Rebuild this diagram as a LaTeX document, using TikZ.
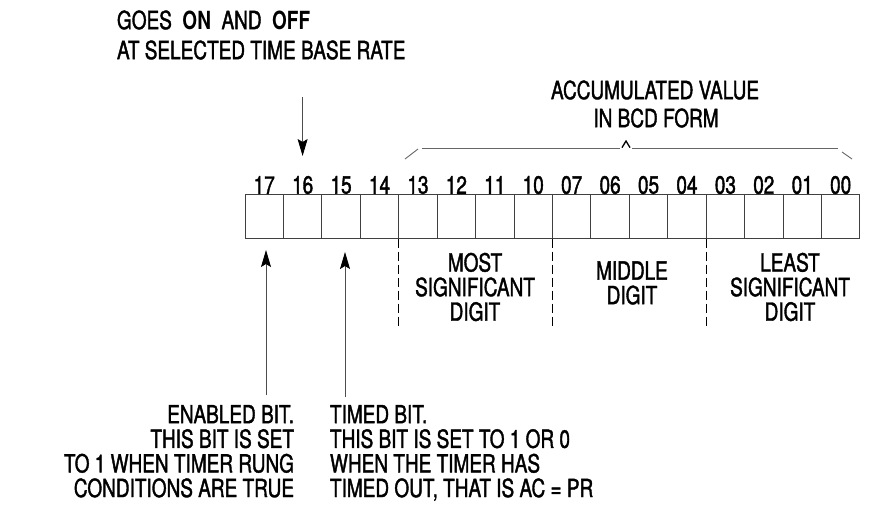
\documentclass[tikz,border=0pt]{standalone}
\usepackage{fontspec}
\setmainfont{TeX Gyre Heros}[FakeStretch=0.76,UprightFeatures={FakeBold=1.5}]
\usetikzlibrary{arrows.meta,calc}
\begin{document}
\begin{tikzpicture}[x=1pt,y=-1pt,
  every node/.style={inner sep=0pt,outer sep=0pt,font=\fontsize{25}{24.6}\selectfont},
  cell/.style={draw=black!75,line width=0.9pt,minimum width=38.43pt,minimum height=44pt},
  bitlab/.style={anchor=center},
  txt/.style={align=center},
  conn/.style={draw=black!70,line width=0.9pt},
  arr/.style={conn,-{Stealth[length=17pt,width=10pt,inset=3pt,black]}},
  sepdash/.style={draw=black,line width=1.2pt,dash pattern=on 9pt off 4pt},
  brace/.style={draw=black!60,line width=0.9pt}]
\useasboundingbox (0,0) rectangle (869,512);
% cells and bit numbers
\foreach \lab [count=\i from 0] in {17,16,15,14,13,12,11,10,07,06,05,04,03,02,01,00}{
  \node[cell] (b\lab) at ({245+38.43*\i+19.215},216.5) {};
  \node[bitlab] (t\lab) at ({245+38.43*\i+19.215},185) {\lab};
}
% top text
\node[anchor=west] (goes) at (117,20) {GOES\ \ \textbf{ON}\ \ AND\ \ \textbf{OFF}};
\node[anchor=west] (rate) at (117,50) {AT SELECTED TIME BASE RATE};
\node[txt] (acc) at (655,90) {ACCUMULATED VALUE};
\node[txt] (bcd) at (656,118) {IN BCD FORM};
% arrow from top to bit 16
\coordinate (a16top) at (302.6,97);
\coordinate (a16tip) at (302.6,156);
\draw[arr] (a16top) -- (a16tip);
% brace
\coordinate (br1) at (405,159);
\coordinate (br2) at (418,149);
\coordinate (br3) at (422,148.6);
\coordinate (br4) at (620,148.6);
\coordinate (br5) at (626,141);
\coordinate (br6) at (632,148.6);
\coordinate (br7) at (838,148.6);
\coordinate (br8) at (842,152);
\coordinate (br9) at (852,159);
\draw[brace] (br1) -- (br2);
\draw[brace] (br3) -- (br4);
\draw[brace,line width=1.3pt,black] ($(br4)+(2,-1)$) -- (br5) -- ($(br6)+(-2,-1)$);
\draw[brace] (br6) -- (br7);
\draw[brace] (br8) -- (br9);
% dashed separators
\draw[sepdash] (b14.south east) -- ++(0,90);
\draw[sepdash] (b10.south east) -- ++(0,90);
\draw[sepdash] (b04.south east) -- ++(0,90);
% digit labels
\node[txt] (most) at (475,287) {MOST\\SIGNIFICANT\\DIGIT};
\node[txt] (mid) at (632,283) {MIDDLE\\DIGIT};
\node[txt] (least) at (790,287) {LEAST\\SIGNIFICANT\\DIGIT};
% enabled and timed bit arrows
\coordinate (e1) at (266,395);
\coordinate (e2) at (266,250);
\coordinate (tm1) at (345,397);
\coordinate (tm2) at (345,252);
\draw[arr] (e1) -- (e2);
\draw[arr] (tm1) -- (tm2);
% bottom texts
\node[align=right,anchor=north east] (en) at (294,405) {ENABLED BIT.\\THIS BIT IS SET\\TO 1 WHEN TIMER RUNG\\CONDITIONS ARE TRUE};
\node[align=left,anchor=north west] (tb) at (330,405) {TIMED BIT.\\THIS BIT IS SET TO 1 OR 0\\WHEN THE TIMER HAS\\TIMED OUT, THAT IS AC = PR};
\end{tikzpicture}
\end{document}
